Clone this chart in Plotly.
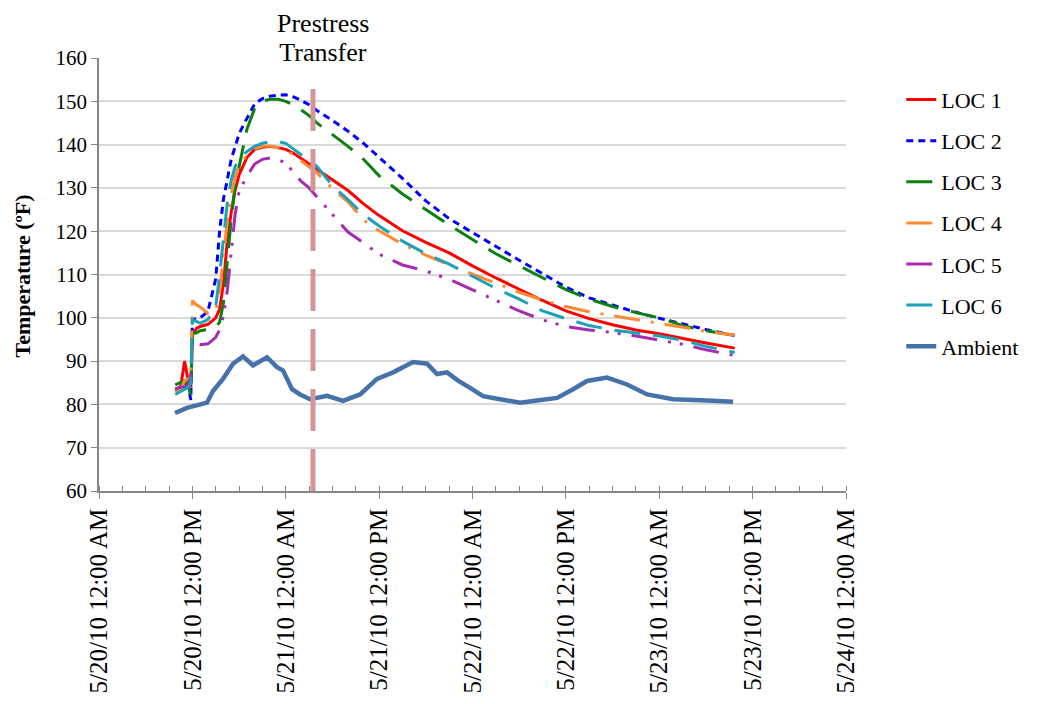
import pandas as pd
import plotly.graph_objects as go

START = pd.Timestamp("2010-05-20 00:00")
SERIF = "Liberation Serif, Times New Roman, serif"

# hours after 5/20/10 12:00 AM for the six gauge locations
loc_hours = [9.8, 10.5, 11.0, 11.5, 11.8, 12.0, 12.5, 13.0, 14.0, 15.0, 15.5, 16.0, 16.5, 17.0,
             17.5, 18.0, 19.0, 20.0, 21.0, 22.0, 23.0, 24.0, 25.0, 26.0, 27.0, 28.0, 30.0, 32.0,
             34.0, 36.0, 39.0, 42.0, 45.0, 48.0, 51.0, 54.0, 57.0, 60.0, 63.0, 66.0, 69.0, 72.0,
             75.0, 78.0, 81.7]

loc1 = [83, 84, 90, 85, 84, 96, 97.5, 98, 98.5, 100, 102, 108, 118, 124.5,
        129.5, 133, 137, 138.9, 139.4, 139.6, 139.3, 138.9, 138, 136.8, 135.5, 134.3, 132, 129.4,
        126.3, 123.6, 120.1, 117.4, 115, 112, 109.2, 106.6, 104, 101.6, 99.8, 98.4, 97.2, 96.3,
        95.2, 94.2, 93]
loc2 = [83.5, 84, 85, 84, 81, 99.6, 99.8, 100, 101.5, 109, 120, 127.5, 132, 136.7,
        139.5, 142.5, 146, 149.4, 150.6, 151.2, 151.4, 151.5, 151, 150.2, 149.2, 147.9, 145.6, 143.1,
        140.3, 137.1, 132.2, 127.0, 122.9, 119.7, 116.4, 113.3, 110.2, 107.1, 104.6, 102.9, 101.3, 99.9,
        98.6, 97.3, 95.9]
loc3 = [84.5, 85, 85.5, 84, 82, 96.5, 96.5, 97, 97.3, 97.8, 99, 103.5, 113.5, 123,
        130.5, 135, 143.5, 148.3, 150, 150.5, 150.5, 150, 149.2, 148, 146.7, 145, 142.3, 139.6,
        136.6, 132.8, 128.6, 125.0, 121.4, 118.1, 114.8, 112, 109.3, 106.5, 104.3, 102.6, 101.2, 100.0,
        98.2, 97, 95.9]
loc4 = [83, 83.5, 85.5, 86, 85, 104, 103, 102.5, 101, 101.5, 106, 114.5, 122.5, 128.5,
        132.5, 135.3, 137.5, 139, 139.6, 139.7, 139.3, 138.8, 137.6, 136.3, 134.9, 133.5, 129.8, 126.8,
        122.6, 120.1, 117, 114.5, 112.2, 110.1, 108, 105.9, 104.1, 102.6, 101.4, 100.5, 99.7, 98.7,
        97.8, 96.9, 96]
loc5 = [83.5, 84, 84, 84.5, 87, 94, 94, 93.8, 94, 95.5, 97.2, 100.5, 106.5, 116,
        124, 129.2, 132.7, 135.5, 136.6, 136.9, 136.6, 135.7, 133.5, 131.5, 130, 128, 123.8, 119.8,
        117.3, 114.7, 112.2, 110.8, 108.9, 106.5, 104, 101.6, 99.5, 98, 97.2, 96.6, 95.8, 94.9,
        93.9, 92.6, 91.3]
loc6 = [82.3, 83, 83.5, 84, 85, 99.6, 99.2, 98.8, 99.6, 102.5, 110, 119, 126.7, 131.8,
        135, 136.5, 138.4, 139.6, 140.3, 140.7, 140.7, 140.3, 139, 137.8, 136.4, 135, 130.5, 127.3,
        123.8, 121.2, 117.7, 114.8, 112.4, 109.5, 106.8, 104.3, 101.6, 99.8, 98.2, 97.2, 96.5, 95.8,
        94.8, 93.4, 92]

amb_hours = [9.77, 11.31, 13.88, 14.65, 15.94, 17.22, 18.51, 19.79, 21.59, 22.88, 23.65, 24.81,
             25.84, 27.12, 29.31, 31.36, 33.55, 35.73, 37.79, 40.36, 42.16, 43.44, 44.73, 46.14,
             47.69, 49.36, 51.54, 54.11, 56.3, 58.87, 60.93, 62.72, 65.3, 67.87, 70.44, 73.78,
             78.15, 81.49]
ambient = [78, 79.2, 80.4, 83.1, 85.9, 89.4, 91.1, 89, 90.9, 88.6, 87.8, 83.5,
           82.3, 81.2, 82, 80.8, 82.3, 85.9, 87.4, 89.8, 89.4, 87, 87.4, 85.5,
           83.8, 81.9, 81.2, 80.4, 80.9, 81.5, 83.5, 85.4, 86.2, 84.6, 82.3, 81.2,
           80.9, 80.6]

transfer_time = "2010-05-21 03:30"
transfer_span = [60, 154]


def to_time(hours):
    return START + pd.to_timedelta(hours, unit="h")


series = [
    ("LOC 1", loc1, "#FF0000", "solid"),
    ("LOC 2", loc2, "#0000FF", "7px,5px"),
    ("LOC 3", loc3, "#0A800F", "26px,13px"),
    ("LOC 4", loc4, "#FF8A33", "26px,11px,3px,11px"),
    ("LOC 5", loc5, "#A62BB0", "26px,11px,3px,9px,3px,11px"),
    ("LOC 6", loc6, "#1AA2B9", "26px,13px"),
]

fig = go.Figure()
t = to_time(loc_hours)
for name, vals, color, dash in series:
    fig.add_trace(go.Scatter(x=t, y=vals, name=name, mode="lines", legendgroup=name,
                             line=dict(color=color, width=3, dash=dash)))

fig.add_trace(go.Scatter(x=to_time(amb_hours), y=ambient, name="Ambient", mode="lines",
                         legendgroup="Ambient", line=dict(color="#4672AA", width=4.5)))

# prestress transfer marker
fig.add_trace(go.Scatter(x=[transfer_time, transfer_time], y=transfer_span, mode="lines",
                         showlegend=False, hoverinfo="skip",
                         line=dict(color="#D49595", width=5, dash="42px,18px")))

# two lines placed separately to get the tighter line spacing
fig.add_annotation(x=transfer_time, xshift=10, y=1, yref="paper", yanchor="middle", yshift=6,
                   text="Transfer", showarrow=False, bgcolor="white", width=180, height=28,
                   borderpad=0, font=dict(family=SERIF, size=26, color="black"))
fig.add_annotation(x=transfer_time, xshift=10, y=1, yref="paper", yanchor="middle", yshift=35,
                   text="Prestress", showarrow=False, height=28, borderpad=0,
                   font=dict(family=SERIF, size=26, color="black"))

# y axis title
fig.add_annotation(x=0, xref="paper", xshift=-77, xanchor="center", y=0.5, yref="paper",
                   yanchor="middle", yshift=-2, textangle=-90, showarrow=False,
                   text="<b>Temperature (ºF)</b>",
                   font=dict(family=SERIF, size=22, color="black"))

fig.update_layout(
    width=1040, height=704,
    margin=dict(l=91, r=202, t=50, b=221),
    paper_bgcolor="white", plot_bgcolor="white",
    font=dict(family=SERIF, color="black"),
    showlegend=True,
    legend=dict(x=1.074, y=0.952, xanchor="left", yanchor="top", traceorder="grouped",
                tracegroupgap=9.5, font=dict(size=22, family=SERIF, color="black")),
)
fig.update_xaxes(
    type="date", range=["2010-05-20 00:00", "2010-05-24 00:00"],
    tick0="2010-05-20 00:00", dtick=12 * 3600 * 1000,
    tickformat="%-m/%-d/%y %-I:%M %p", tickangle=-90,
    tickfont=dict(size=25, family=SERIF, color="black"), showgrid=False,
    showline=True, linecolor="#868686", linewidth=1.5,
    ticks="outside", ticklen=6, tickcolor="#868686",
    minor=dict(dtick=3 * 3600 * 1000, ticks="inside", ticklen=5, tickcolor="#868686", showgrid=False),
)
fig.update_yaxes(
    range=[60, 160], dtick=10, tickfont=dict(size=21, family=SERIF, color="black"),
    showgrid=True, gridcolor="#D9D9D9", gridwidth=1.5,
    showline=True, linecolor="#868686", linewidth=1.5,
    ticks="outside", ticklen=6, tickcolor="#868686", zeroline=False,
)

fig.write_html("out.html")
